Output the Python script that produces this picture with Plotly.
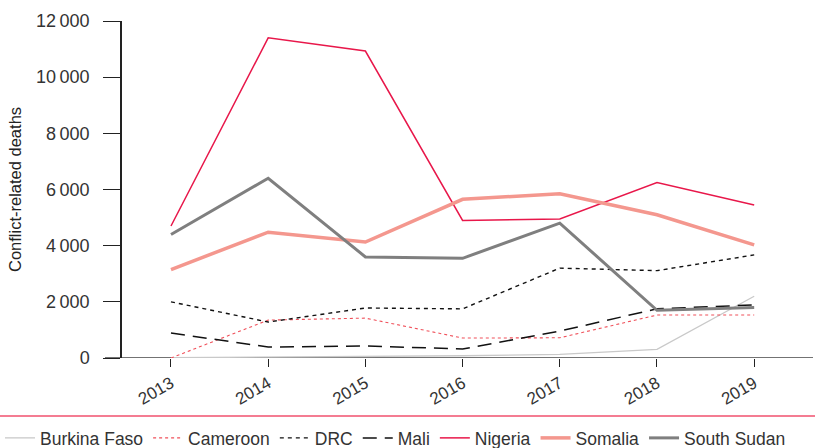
import plotly.graph_objects as go

years = [2013, 2014, 2015, 2016, 2017, 2018, 2019]
burkina_faso = [10, 30, 40, 80, 130, 310, 2200]
cameroon = [0, 1350, 1420, 710, 720, 1530, 1530]
drc = [2000, 1280, 1780, 1750, 3200, 3110, 3670]
mali = [890, 390, 430, 320, 960, 1750, 1890]
nigeria = [4700, 11400, 10930, 4900, 4950, 6250, 5450]
somalia = [3150, 4480, 4130, 5650, 5850, 5100, 4030]
south_sudan = [4400, 6400, 3600, 3550, 4800, 1700, 1800]

y_ticks = [0, 2000, 4000, 6000, 8000, 10000, 12000]
y_tick_labels = ["0", "2\u2009000", "4\u2009000", "6\u2009000", "8\u2009000", "10\u2009000", "12\u2009000"]

series = [
    ("Burkina Faso", burkina_faso, dict(color="#C9C9C9", width=1.3, dash="solid")),
    ("Cameroon", cameroon, dict(color="#F0505A", width=1.1, dash="dot")),
    ("DRC", drc, dict(color="#111111", width=1.4, dash="4px,4px")),
    ("Mali", mali, dict(color="#111111", width=1.5, dash="14px,8px")),
    ("Nigeria", nigeria, dict(color="#E8174A", width=1.5, dash="solid")),
    ("Somalia", somalia, dict(color="#F4978E", width=3.5, dash="solid")),
    ("South Sudan", south_sudan, dict(color="#7F7F7F", width=3, dash="solid")),
]

fig = go.Figure()
for name, vals, line in series:
    fig.add_trace(go.Scatter(x=years, y=vals, name=name, mode="lines", line=line))

font_main = "Liberation Sans, Arial"
L, R, T, B = 122, 2, 21, 90
W, H = 815, 448
pw, ph = W - L - R, H - T - B

fig.update_layout(
    width=W, height=H,
    margin=dict(l=L, r=R, t=T, b=B, autoexpand=False),
    plot_bgcolor="white", paper_bgcolor="white",
    showlegend=True,
    legend=dict(orientation="h", x=-L / pw, xanchor="left",
                y=-(420 - (H - B)) / ph, yanchor="top",
                bgcolor="rgba(0,0,0,0)",
                font=dict(family=font_main, size=17.5, color="#333333"),
                itemwidth=30, tracegroupgap=0),
    xaxis=dict(range=[2012.496, 2019.605], tickvals=years, ticktext=[str(y) for y in years],
               tickangle=-30, ticks="outside", ticklen=8, tickcolor="#222222",
               showline=False, showgrid=False, zeroline=False, automargin=False,
               tickfont=dict(family=font_main, size=17, color="#333333")),
    yaxis=dict(range=[0, 12000], tickvals=y_ticks, ticktext=y_tick_labels,
               ticks="outside", ticklen=17, tickcolor="#222222", ticklabelstandoff=10,
               showline=True, linecolor="#222222", linewidth=1.5,
               showgrid=False, zeroline=False, automargin=False,
               title=dict(text="Conflict-related deaths", standoff=10,
                          font=dict(family=font_main, size=16.5, color="#222222")),
               tickfont=dict(family=font_main, size=18, color="#333333")),
    shapes=[
        dict(type="line", xref="paper", yref="y", x0=-17 / pw, x1=1.0, y0=0, y1=0,
             line=dict(color="#444444", width=1.5), layer="below"),
        dict(type="line", xref="paper", yref="paper", x0=-L / pw, x1=(W - L) / pw,
             y0=-(416 - (H - B)) / ph, y1=-(416 - (H - B)) / ph,
             line=dict(color="#F0506E", width=1.5)),
    ],
)

fig.write_html(
    "out.html",
    config={"displayModeBar": False},
    post_script="document.body.style.margin='0';document.body.style.overflow='hidden';",
)
